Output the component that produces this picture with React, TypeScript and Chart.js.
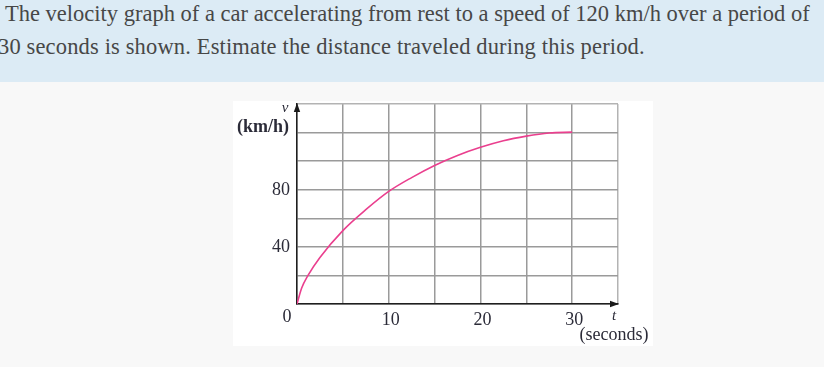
import React, { useEffect, useRef } from "react";
import { Chart, registerables } from "chart.js";

Chart.register(...registerables);

const headerLines = [
  "The velocity graph of a car accelerating from rest to a speed of 120 km/h over a period of",
  "30 seconds is shown. Estimate the distance traveled during this period.",
];

const times = [0, 0.5, 1.2, 2.5, 5, 7.5, 10, 12.5, 15, 17.5, 20, 22.5, 25, 27.5, 30];
const speeds = [0, 11, 20, 32.6, 51.4, 66, 78.8, 88.5, 97, 104, 109.7, 114.3, 117.5, 119.7, 120.3];

const xTickLabels = [10, 20, 30];
const yTickLabels = [40, 80];
const originLabel = "0";
const xAxisName = "t";
const xAxisUnit = "(seconds)";
const yAxisName = "v";
const yAxisUnit = "(km/h)";

const X_MAX = 35;
const Y_MAX = 140;

const labelPlugin = {
  id: "labels",
  afterDraw(chart: any) {
    const ctx = chart.ctx;
    const xs = chart.scales.x;
    const ys = chart.scales.y;
    const x0 = xs.getPixelForValue(0);
    const xEnd = xs.getPixelForValue(X_MAX);
    const y0 = ys.getPixelForValue(0);
    const yEnd = ys.getPixelForValue(Y_MAX);
    ctx.save();
    // arrows
    ctx.fillStyle = "#1a1a1a";
    ctx.beginPath();
    ctx.moveTo(x0, yEnd - 1);
    ctx.lineTo(x0 - 3.2, yEnd + 8);
    ctx.lineTo(x0 + 3.2, yEnd + 8);
    ctx.closePath();
    ctx.fill();
    ctx.beginPath();
    ctx.moveTo(xEnd + 1, y0);
    ctx.lineTo(xEnd - 8, y0 - 3.2);
    ctx.lineTo(xEnd - 8, y0 + 3.2);
    ctx.closePath();
    ctx.fill();

    ctx.fillStyle = "#2b2b38";
    ctx.font = "18px 'Liberation Serif', serif";
    ctx.textBaseline = "middle";
    ctx.textAlign = "right";
    for (const v of yTickLabels) {
      ctx.fillText(String(v), x0 - 7, ys.getPixelForValue(v) + 0.5);
    }
    ctx.textAlign = "center";
    ctx.fillText(originLabel, x0 - 10, y0 + 13);
    for (const v of xTickLabels) {
      ctx.fillText(String(v), xs.getPixelForValue(v) + 2, y0 + 16);
    }
    ctx.fillText(xAxisUnit, xEnd - 4, y0 + 31);
    ctx.font = "bold 18px 'Liberation Serif', serif";
    ctx.fillText(yAxisUnit, x0 - 34, yEnd + 23);
    ctx.font = "italic 15px 'Liberation Serif', serif";
    ctx.fillText(xAxisName, xEnd - 4, y0 + 12);
    ctx.fillText(yAxisName, x0 - 12, yEnd + 4);
    ctx.restore();
  },
};

function VelocityChart() {
  const ref = useRef<HTMLCanvasElement>(null);
  useEffect(() => {
    if (!ref.current) return;
    const chart = new Chart(ref.current, {
      type: "scatter",
      data: {
        datasets: [
          {
            data: times.map((t, i) => ({ x: t, y: speeds[i] })),
            showLine: true,
            borderColor: "#ea3f8e",
            borderWidth: 1.6,
            pointRadius: 0,
            cubicInterpolationMode: "monotone",
          } as any,
        ],
      },
      options: {
        animation: false,
        responsive: false,
        layout: { padding: { left: 64, right: 35, top: 3, bottom: 42 } },
        plugins: { legend: { display: false }, tooltip: { enabled: false } },
        scales: {
          x: {
            type: "linear",
            min: 0,
            max: X_MAX,
            ticks: { stepSize: 5, display: false },
            grid: {
              drawTicks: false,
              lineWidth: 1.5,
              color: (c: any) => (c.tick && c.tick.value === X_MAX ? "#b3b3b3" : "#9a9a9a"),
            },
            border: { color: "#1f1f1f", width: 1.5 },
          },
          y: {
            type: "linear",
            min: 0,
            max: Y_MAX,
            ticks: { stepSize: 20, display: false },
            grid: {
              drawTicks: false,
              lineWidth: 1.5,
              color: (c: any) => (c.tick && c.tick.value === Y_MAX ? "#b3b3b3" : "#9a9a9a"),
            },
            border: { color: "#1f1f1f", width: 1.5 },
          },
        },
      },
      plugins: [labelPlugin],
    });
    return () => chart.destroy();
  }, []);
  return <canvas ref={ref} width={420} height={245} style={{ display: "block" }} />;
}

export default function App() {
  return (
    <div
      style={{
        position: "fixed",
        left: 0,
        top: 0,
        width: 824,
        height: 367,
        background: "#f8f8f8",
        overflow: "hidden",
      }}
    >
      <div
        style={{
          position: "absolute",
          left: 0,
          top: 0,
          width: 824,
          height: 82,
          background: "#dcebf5",
        }}
      />
      {headerLines.map((line, i) => (
        <div
          key={i}
          style={{
            position: "absolute",
            left: i === 0 ? 5 : -2,
            top: -3 + i * 33.3,
            whiteSpace: "nowrap",
            fontFamily: "'Liberation Serif', serif",
            fontSize: 22.5,
            lineHeight: "33px",
            letterSpacing: i === 1 ? "0.15px" : undefined,
            color: "#474747",
          }}
        >
          {line}
        </div>
      ))}
      <div
        style={{
          position: "absolute",
          left: 233,
          top: 101,
          width: 420,
          height: 245,
          background: "#ffffff",
        }}
      >
        <VelocityChart />
      </div>
    </div>
  );
}
